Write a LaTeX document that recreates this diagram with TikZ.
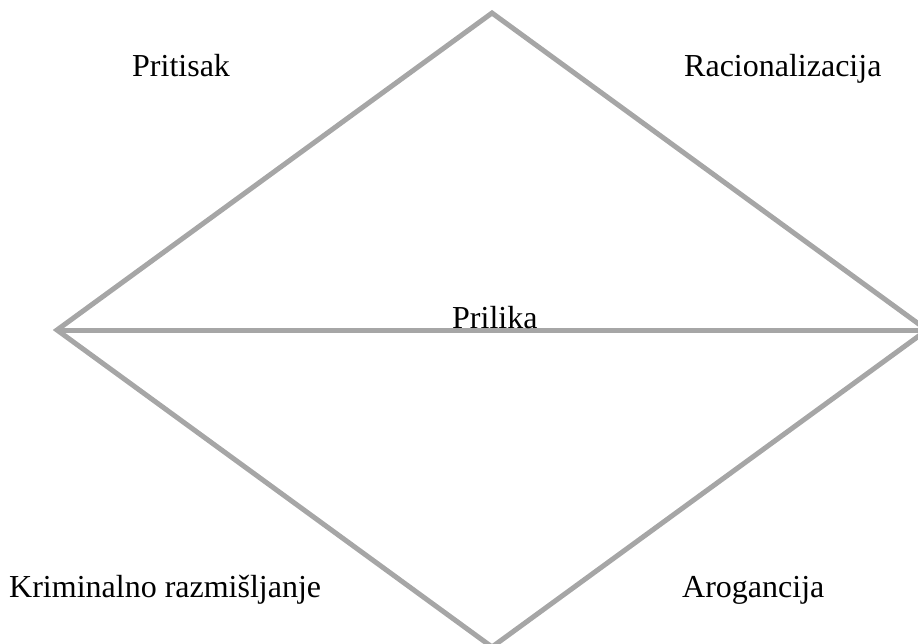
\documentclass[tikz,border=0pt]{standalone}
\usepackage{fontspec}
\setmainfont{Liberation Serif}
\definecolor{edgegray}{HTML}{A6A6A6}

\begin{document}
\begin{tikzpicture}[x=1pt,y=-1pt,
  edge/.style={draw=edgegray,line width=5pt},
  lbl/.style={anchor=base west,inner sep=0pt,font=\fontsize{32}{38}\selectfont}]
\useasboundingbox (0,0) rectangle (918,644);

\coordinate (top) at (492,13);
\coordinate (left) at (57,330);
\coordinate (right) at (927,330);
\coordinate (bottom) at (492,647);

\draw[edge] (top) -- (right) -- (bottom) -- (left) -- cycle;
\draw[edge] (left) -- (right);

\node[lbl] (pritisak) at (132,77) {Pritisak};
\node[lbl] (racio) at (684,77) {Racionalizacija};
\node[lbl] (prilika) at (452,328) {Prilika};
\node[lbl] (krim) at (9,597) {Kriminalno razmišljanje};
\node[lbl] (arog) at (682,597) {Arogancija};
\end{tikzpicture}
\end{document}
